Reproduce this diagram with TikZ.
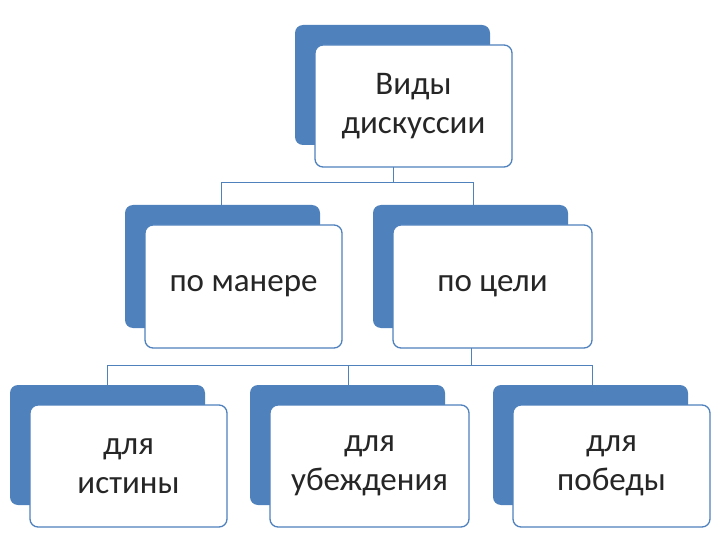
\documentclass[tikz,border=0pt]{standalone}
\usepackage{fontspec}
\setmainfont{Carlito}
\begin{document}
\begin{tikzpicture}[x=1pt,y=-1pt,
 back/.style={fill=blue1,rounded corners=8pt},
 front/.style={draw=blue1,line width=1.3pt,fill=white,rounded corners=8pt,align=center,font=\fontsize{33}{39}\selectfont,text=black!85},
 conn/.style={draw=blue1,line width=1pt}]
\definecolor{blue1}{HTML}{4F81BD}
\useasboundingbox (0,0) rectangle (720,540);
% top
\fill[back] (295,25) rectangle (490,145);
\node[front,minimum width=197pt,minimum height=122pt] (top) at (413.5,106) {Виды\\дискуссии};
% level 2
\fill[back] (125,205) rectangle (320,328);
\node[front,minimum width=197pt,minimum height=123pt] (m) at (243.5,286.5) {по манере};
\fill[back] (373,205) rectangle (568,328);
\node[front,minimum width=199pt,minimum height=123pt] (c) at (492.5,286.5) {по цели};
% level 3
\fill[back] (10,385) rectangle (205,505);
\node[front,minimum width=197pt,minimum height=122pt] (a) at (128.5,466) {для\\истины};
\fill[back] (250,385) rectangle (445,505);
\node[front,minimum width=199pt,minimum height=122pt] (b) at (369.5,466) {для\\убеждения};
\fill[back] (493,385) rectangle (688,505);
\node[front,minimum width=197pt,minimum height=122pt] (d) at (611.5,466) {для\\победы};
% connectors
\coordinate (j1) at (393,183);
\draw[conn] (393,167) -- (j1);
\draw[conn] (221,205) -- (221,183) -- (473,183) -- (473,205);
\coordinate (j2) at (471,365);
\draw[conn] (471,348) -- (j2);
\draw[conn] (107,385) -- (107,365) -- (592,365) -- (592,385);
\draw[conn] (348,365) -- (348,385);
\end{tikzpicture}
\end{document}
